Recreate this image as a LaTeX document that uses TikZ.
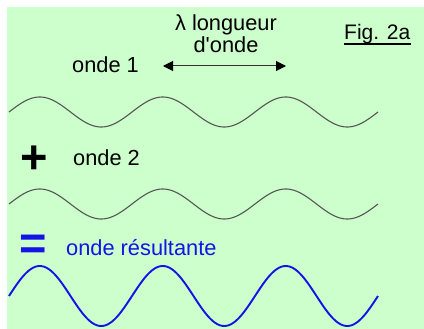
\documentclass[tikz,border=0pt]{standalone}
\usepackage{fontspec}
\setmainfont{Liberation Sans}
\usetikzlibrary{arrows.meta}
\definecolor{bg}{HTML}{CCFFCC}
\definecolor{wavegray}{HTML}{555555}
\definecolor{resblue}{RGB}{20,20,230}
\begin{document}
\begin{tikzpicture}[x=1pt,y=-1pt,
  lbl/.style={inner sep=0pt, anchor=base west, font=\fontsize{21.8}{26}\selectfont},
  sym/.style={inner sep=0pt, font=\fontsize{47}{50}\selectfont\bfseries},
  thinwave/.style={wavegray, line width=1.1pt},
  reswave/.style={resblue, line width=1.9pt},
  lamarrow/.style={{Triangle[length=10pt,width=10pt,color=black]}-{Triangle[length=10pt,width=10pt,color=black]}, draw=wavegray!60!black, line width=1pt}]
\useasboundingbox (0,0) rectangle (424,329);
\fill[bg] (7,7) rectangle (424,329);
% labels
\node[lbl] (o1) at (72,72.7) {onde 1};
\node[lbl, anchor=base] (lam1) at (226,31) {λ longueur};
\node[lbl, anchor=base] (lam2) at (226,52.3) {d\textquotesingle onde};
\node[lbl, font=\fontsize{21}{25}\selectfont] (fig) at (344,39.3) {Fig. 2a};
\draw[line width=1.3pt] ([yshift=-4.7pt]fig.base west) -- ([yshift=-4.7pt]fig.base east);
\node[lbl] (o2) at (73,166) {onde 2};
\node[lbl, text=resblue] (res) at (66,255.3) {onde résultante};
\node[sym] (plus) at (34,159.5) {+};
\node[sym, text=resblue] (eq) at (33,247.7) {=};
% wavelength arrow
\coordinate (al) at (163,66);
\coordinate (ar) at (286,66);
\draw[lamarrow] (al) -- (ar);
% waves
\draw[thinwave] plot[domain=9:378, samples=200, smooth] (\x, {112-15*sin(2.926829*(\x-9))});
\draw[thinwave] plot[domain=9:378, samples=200, smooth] (\x, {204-15*sin(2.926829*(\x-9))});
\draw[reswave] plot[domain=9:378, samples=200, smooth] (\x, {296-30*sin(2.926829*(\x-9))});
\end{tikzpicture}
\end{document}
